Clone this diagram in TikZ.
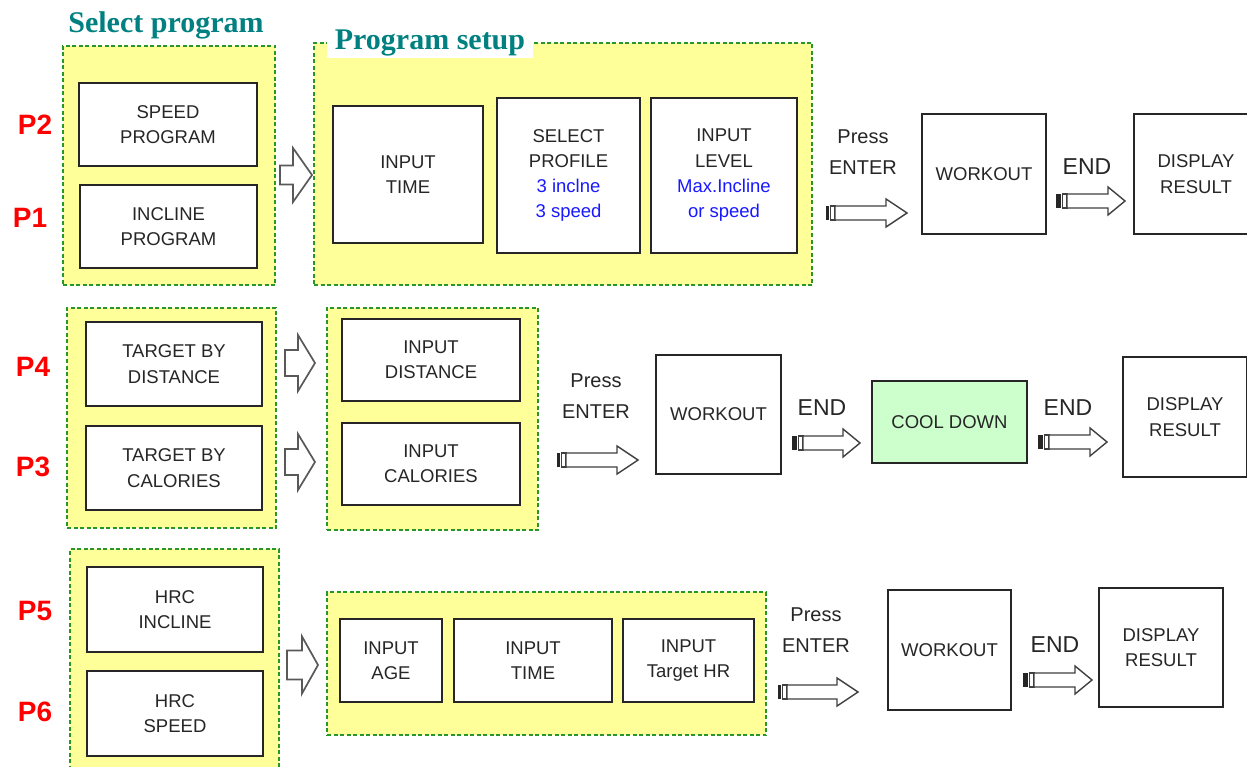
\documentclass[tikz,border=0pt]{standalone}
\usepackage{fontspec}
\setmainfont{Liberation Sans}
\newfontfamily\ttlfont{Liberation Serif}
\definecolor{ylw}{RGB}{255,255,153}
\definecolor{dgreen}{RGB}{40,150,40}
\definecolor{tealtt}{RGB}{0,128,128}
\definecolor{blu}{RGB}{25,25,255}
\definecolor{coolg}{RGB}{204,255,204}
\definecolor{pred}{RGB}{255,0,0}
\tikzset{
  cont/.style={draw=dgreen, fill=ylw, dash pattern=on 4pt off 2.5pt, line width=1.1pt, inner sep=0pt},
  box/.style={draw=black!85, fill=white, line width=1.4pt, align=center, inner sep=0pt,
    font=\fontsize{18.5}{25.3}\selectfont, text=black!85},
  plab/.style={text=pred, font=\fontsize{28}{28}\selectfont\bfseries},
  plbl/.style={align=center, font=\fontsize{20}{31}\selectfont, text=black!85},
  endl/.style={font=\fontsize{23}{23}\selectfont, text=black!85},
  ttl/.style={text=tealtt, font=\ttlfont\fontsize{30}{30}\selectfont\bfseries},
  barr/.style={draw=black!65, fill=white, line width=1.7pt, line join=miter},
  tarr/.style={draw=black!75, fill=white, line width=1.4pt}
}
\newcommand\blkarr[6]{%
  \draw[barr] (#1,#4-#5) -- (#3,#4-#5) -- (#3,#4-#6) -- (#2,#4) -- (#3,#4+#6) -- (#3,#4+#5) -- (#1,#4+#5) -- cycle;}
\newcommand\tailarr[5]{%
  \fill[black!85] (#1,#3-7) rectangle (#1+#4,#3+7);
  \draw[tarr] (#1+#4+1.5,#3-7) rectangle (#1+#4+6,#3+7);
  \draw[tarr] (#1+#4+6,#3-7) -- (#2-#5,#3-7) -- (#2-#5,#3-14) -- (#2,#3) -- (#2-#5,#3+14) -- (#2-#5,#3+7) -- (#1+#4+6,#3+7) -- cycle;}
\begin{document}
\begin{tikzpicture}[x=1pt,y=-1pt]
\clip (0,0) rectangle (1247,767);
\fill[white] (0,0) rectangle (1247,767);

% ---------- Row 1 ----------
\node[cont, minimum width=212, minimum height=239] (c1) at (169,165.5) {};
\node[ttl] (t1) at (166,25) {Select program};
\node[box, minimum width=178, minimum height=83] (bspeed) at (168,124.5) {SPEED\\PROGRAM};
\node[box, minimum width=177, minimum height=83] (bincl) at (168.5,226.5) {INCLINE\\PROGRAM};
\node[plab] (p2) at (35,125) {P2};
\node[plab] (p1) at (30,218) {P1};
\blkarr{280}{312}{293}{175}{9.5}{27}

\node[cont, minimum width=498, minimum height=242] (c2) at (563,164) {};
\node[ttl, fill=white, inner xsep=8pt, inner ysep=2pt] (t2) at (430,43) {Program setup};
\node[box, minimum width=150, minimum height=137] (itime1) at (408,174.5) {INPUT\\TIME};
\node[box, minimum width=143, minimum height=155] (sprof) at (568.5,175.5) {SELECT\\PROFILE\\\textcolor{blu}{3 inclne}\\\textcolor{blu}{3 speed}};
\node[box, minimum width=146, minimum height=155] (ilevel) at (724,175.5) {INPUT\\LEVEL\\\textcolor{blu}{Max.Incline}\\\textcolor{blu}{or speed}};

\node[plbl] (pe1) at (863,152.5) {Press\\ENTER};
\tailarr{826}{907}{213}{3}{21}
\node[box, minimum width=124, minimum height=120] (wo1) at (984,174) {WORKOUT};
\node[endl] (e1) at (1087,167) {END};
\tailarr{1056}{1125}{201}{5}{17}
\node[box, minimum width=124, minimum height=120] (dr1) at (1196,174) {DISPLAY\\RESULT};

% ---------- Row 2 ----------
\node[cont, minimum width=209, minimum height=220] (c3) at (171.5,418) {};
\node[box, minimum width=176, minimum height=84] (tbd) at (174,364) {TARGET BY\\DISTANCE};
\node[box, minimum width=176, minimum height=84] (tbc) at (174,468) {TARGET BY\\CALORIES};
\node[plab] (p4) at (33,367) {P4};
\node[plab] (p3) at (33,467) {P3};
\blkarr{285}{315}{298}{363}{13}{28}
\blkarr{285}{315}{298}{462}{13}{28}

\node[cont, minimum width=211, minimum height=222] (c4) at (432.5,419) {};
\node[box, minimum width=178, minimum height=82] (idist) at (431,360) {INPUT\\DISTANCE};
\node[box, minimum width=178, minimum height=82] (ical) at (431,464) {INPUT\\CALORIES};

\node[plbl] (pe2) at (596,396.5) {Press\\ENTER};
\tailarr{557}{638}{460}{3}{21}
\node[box, minimum width=125, minimum height=119] (wo2) at (718.5,414.5) {WORKOUT};
\node[endl] (e2) at (822,408) {END};
\tailarr{792}{860}{443}{5}{17}
\node[box, fill=coolg, minimum width=155, minimum height=82] (cool) at (949.5,422) {COOL DOWN};
\node[endl] (e3) at (1068,408) {END};
\tailarr{1038}{1107}{442}{5}{17}
\node[box, minimum width=124, minimum height=120] (dr2) at (1185,417) {DISPLAY\\RESULT};

% ---------- Row 3 ----------
\node[cont, minimum width=209, minimum height=230] (c5) at (174.5,664) {};
\node[box, minimum width=176, minimum height=85] (hinc) at (175,609.5) {HRC\\INCLINE};
\node[box, minimum width=176, minimum height=85] (hspd) at (175,713.5) {HRC\\SPEED};
\node[plab] (p5) at (35,611) {P5};
\node[plab] (p6) at (35,712) {P6};
\blkarr{287}{318}{302}{665}{14.5}{28.5}

\node[cont, minimum width=439, minimum height=143] (c6) at (546.5,663.5) {};
\node[box, minimum width=102, minimum height=83] (iage) at (391,660.5) {INPUT\\AGE};
\node[box, minimum width=158, minimum height=83] (itime3) at (533,660.5) {INPUT\\TIME};
\node[box, minimum width=131, minimum height=83] (ithr) at (688.5,660.5) {INPUT\\Target HR};

\node[plbl] (pe3) at (816,630) {Press\\ENTER};
\tailarr{778}{858}{692}{3}{21}
\node[box, minimum width=123, minimum height=120] (wo3) at (949.5,650) {WORKOUT};
\node[endl] (e4) at (1055,645) {END};
\tailarr{1023}{1092}{680}{5}{17}
\node[box, minimum width=124, minimum height=119] (dr3) at (1161,647.5) {DISPLAY\\RESULT};
\end{tikzpicture}
\end{document}
